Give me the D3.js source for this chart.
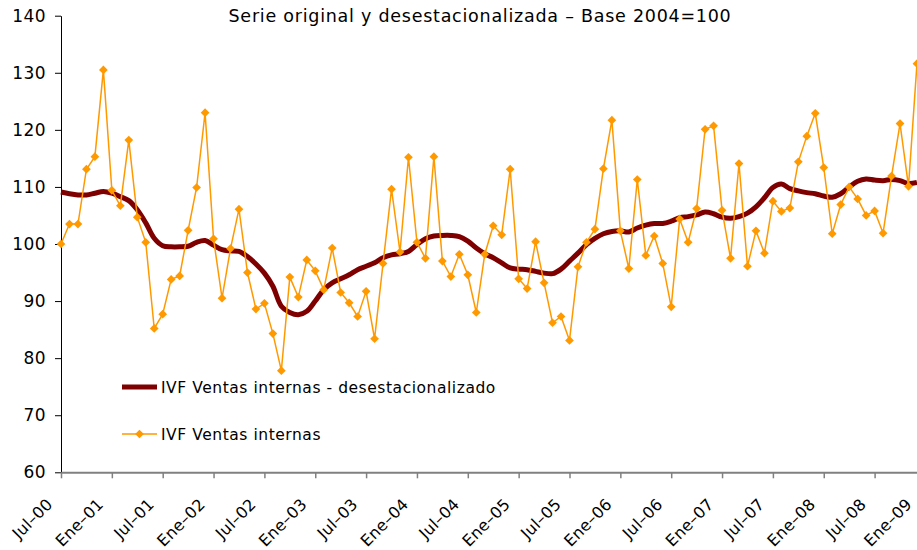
<!DOCTYPE html>
<html>
<head>
<meta charset="utf-8">
<script src="https://cdn.jsdelivr.net/npm/d3@7"></script>
<style>
  html, body { margin: 0; padding: 0; background: #fff; }
  svg { display: block; font-family: "DejaVu Sans", Verdana, sans-serif; }
</style>
</head>
<body>
<svg id="chart" width="917" height="550"></svg>
<script>
// ---------- DATA ----------
const title = "Serie original y desestacionalizada – Base 2004=100";
const seriesNames = ["IVF Ventas internas - desestacionalizado", "IVF Ventas internas"];

// Monthly categories, Jul-00 .. Dic-08
const months = [
  "Jul-00","Ago-00","Sep-00","Oct-00","Nov-00","Dic-00",
  "Ene-01","Feb-01","Mar-01","Abr-01","May-01","Jun-01","Jul-01","Ago-01","Sep-01","Oct-01","Nov-01","Dic-01",
  "Ene-02","Feb-02","Mar-02","Abr-02","May-02","Jun-02","Jul-02","Ago-02","Sep-02","Oct-02","Nov-02","Dic-02",
  "Ene-03","Feb-03","Mar-03","Abr-03","May-03","Jun-03","Jul-03","Ago-03","Sep-03","Oct-03","Nov-03","Dic-03",
  "Ene-04","Feb-04","Mar-04","Abr-04","May-04","Jun-04","Jul-04","Ago-04","Sep-04","Oct-04","Nov-04","Dic-04",
  "Ene-05","Feb-05","Mar-05","Abr-05","May-05","Jun-05","Jul-05","Ago-05","Sep-05","Oct-05","Nov-05","Dic-05",
  "Ene-06","Feb-06","Mar-06","Abr-06","May-06","Jun-06","Jul-06","Ago-06","Sep-06","Oct-06","Nov-06","Dic-06",
  "Ene-07","Feb-07","Mar-07","Abr-07","May-07","Jun-07","Jul-07","Ago-07","Sep-07","Oct-07","Nov-07","Dic-07",
  "Ene-08","Feb-08","Mar-08","Abr-08","May-08","Jun-08","Jul-08","Ago-08","Sep-08","Oct-08","Nov-08","Dic-08"
];

// Original series (IVF Ventas internas)
const original = [
  100.0, 103.5, 103.5, 113.1, 115.3, 130.5,
  109.4, 106.7, 118.2, 104.7, 100.3, 85.2, 87.7, 93.8, 94.4, 102.4, 109.9, 123.0,
  100.9, 90.5, 99.2, 106.1, 95.0, 88.6, 89.6, 84.3, 77.8, 94.2, 90.7, 97.2,
  95.3, 92.0, 99.3, 91.5, 89.7, 87.3, 91.7, 83.4, 96.6, 109.6, 98.6, 115.2,
  100.3, 97.5, 115.3, 97.0, 94.3, 98.2, 94.6, 88.0, 98.2, 103.2, 101.6, 113.1,
  93.9, 92.2, 100.4, 93.2, 86.2, 87.3, 83.1, 96.0, 100.3, 102.6, 113.2, 121.7,
  102.3, 95.7, 111.3, 98.0, 101.4, 96.6, 89.0, 104.4, 100.3, 106.2, 120.1, 120.7,
  105.9, 97.5, 114.1, 96.1, 102.3, 98.4, 107.5, 105.7, 106.3, 114.4, 118.9, 122.9,
  113.4, 101.8, 106.9, 110.0, 107.9, 105.0, 105.8, 101.9, 111.9, 121.1, 110.1, 131.6
];

// Seasonally adjusted series (desestacionalizado)
const adjusted = [
  109.1, 108.8, 108.6, 108.6, 108.9, 109.2,
  108.9, 108.3, 107.6, 106.0, 103.7, 101.0, 99.7, 99.5, 99.5, 99.6, 100.3, 100.6,
  99.8, 99.0, 98.8, 98.7, 97.8, 96.5, 94.9, 92.6, 89.1, 88.0, 87.6, 88.2,
  90.0, 92.0, 93.2, 93.9, 94.6, 95.5, 96.1, 96.7, 97.6, 98.1, 98.3, 98.7,
  99.9, 100.9, 101.4, 101.5, 101.5, 101.3, 100.5, 99.3, 98.3, 97.6, 96.7, 95.8,
  95.6, 95.5, 95.2, 94.9, 94.8, 95.6, 97.0, 98.4, 99.9, 101.0, 101.8, 102.2,
  102.3, 102.1, 102.8, 103.3, 103.6, 103.6, 104.0, 104.6, 104.8, 105.1, 105.6, 105.3,
  104.7, 104.5, 104.8, 105.4, 106.5, 108.1, 109.9, 110.5, 109.7, 109.3, 109.0, 108.8,
  108.4, 108.2, 108.8, 110.0, 111.0, 111.4, 111.2, 111.1, 111.3, 111.1, 110.6, 110.8
];

const tickLabels = ["Jul–00","Ene–01","Jul–01","Ene–02","Jul–02","Ene–03","Jul–03","Ene–04","Jul–04",
  "Ene–05","Jul–05","Ene–06","Jul–06","Ene–07","Jul–07","Ene–08","Jul–08","Ene–09"];
const tickEvery = 6;
const yTicks = [60, 70, 80, 90, 100, 110, 120, 130, 140];

// ---------- CHART ----------
const svg = d3.select("#chart");
const axisY0 = 472.3;

const x = d3.scaleLinear().domain([0, tickLabels.length * tickEvery - tickEvery]).range([61, 61 + 102 * 8.475]);
const y = d3.scaleLinear().domain([60, 140]).range([axisY0, 15.7]);

// title
svg.append("text")
  .attr("x", 480).attr("y", 22)
  .attr("text-anchor", "middle")
  .style("font-size", "17.5px")
  .style("letter-spacing", "0.75px")
  .attr("fill", "#000")
  .text(title);

// y axis
const yAxis = svg.append("g")
  .attr("transform", "translate(61,0)")
  .call(d3.axisLeft(y).tickValues(yTicks).tickSize(6).tickPadding(9).tickSizeOuter(0));
yAxis.select(".domain").attr("stroke", "#000").attr("stroke-width", 1);
yAxis.selectAll(".tick line").attr("stroke", "#000");
yAxis.selectAll(".tick text")
  .style("font-size", "17px").style("letter-spacing", "0.4px")
  .style("font-family", "DejaVu Sans, sans-serif").attr("fill", "#000");

// x axis
const xAxis = svg.append("g")
  .attr("transform", `translate(0,${axisY0})`)
  .call(d3.axisBottom(x)
    .tickValues(d3.range(0, tickLabels.length * tickEvery, tickEvery))
    .tickFormat((d, i) => tickLabels[i])
    .tickSize(6).tickSizeOuter(0));
xAxis.select(".domain").attr("stroke", "#808080").attr("stroke-width", 2);
xAxis.selectAll(".tick line").attr("stroke", "#808080").attr("stroke-width", 1.5);
xAxis.selectAll(".tick text")
  .attr("x", 0).attr("y", 0).attr("dy", "0")
  .attr("transform", (d, i) => i === tickLabels.length - 1 ? "translate(-13,33) rotate(-45)" : "translate(-8,33) rotate(-45)")
  .style("text-anchor", "end")
  .style("font-size", "16px").style("letter-spacing", "0.2px")
  .style("font-family", "DejaVu Sans, sans-serif").attr("fill", "#000");

// lines
const darkRed = "#7f0000";
const orange = "#ff9900";

const lineAdj = d3.line().x((d, i) => x(i)).y(d => y(d)).curve(d3.curveCatmullRom.alpha(0.5));
const lineOrig = d3.line().x((d, i) => x(i)).y(d => y(d));

svg.append("path")
  .datum(adjusted)
  .attr("d", lineAdj)
  .attr("fill", "none")
  .attr("stroke", darkRed)
  .attr("stroke-width", 5)
  .attr("stroke-linejoin", "round");

svg.append("path")
  .datum(original)
  .attr("d", lineOrig)
  .attr("fill", "none")
  .attr("stroke", orange)
  .attr("stroke-width", 1.5);

const diamond = d3.symbol().type(d3.symbolSquare).size(38);
svg.append("g").selectAll("path")
  .data(original)
  .join("path")
  .attr("d", diamond)
  .attr("transform", (d, i) => `translate(${x(i)},${y(d)}) rotate(45)`)
  .attr("fill", orange);

// legend
const leg = svg.append("g");
leg.append("line").attr("x1", 122).attr("x2", 157).attr("y1", 387).attr("y2", 387)
  .attr("stroke", darkRed).attr("stroke-width", 5);
leg.append("text").attr("x", 161).attr("y", 392.5).style("font-size", "15.5px").style("letter-spacing", "0.55px")
  .attr("fill", "#000").text(seriesNames[0]);

leg.append("line").attr("x1", 122).attr("x2", 157).attr("y1", 434).attr("y2", 434)
  .attr("stroke", orange).attr("stroke-width", 1.5);
leg.append("path").attr("d", diamond).attr("transform", "translate(139.5,434) rotate(45)").attr("fill", orange);
leg.append("text").attr("x", 161).attr("y", 439.5).style("font-size", "15.5px").style("letter-spacing", "0.55px")
  .attr("fill", "#000").text(seriesNames[1]);
</script>
</body>
</html>
